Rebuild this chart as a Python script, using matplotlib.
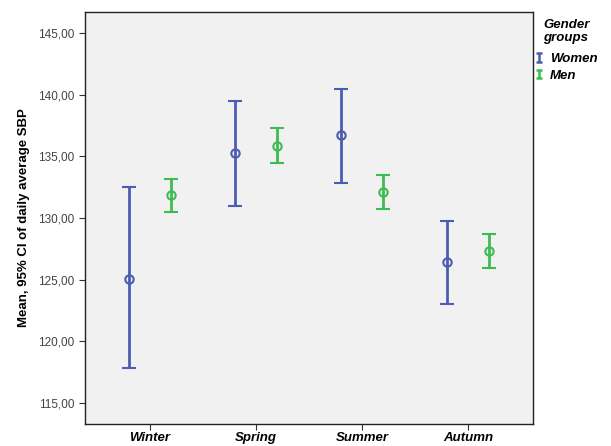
import matplotlib

matplotlib.use("Agg")
import matplotlib.pyplot as plt
import numpy as np
from matplotlib.container import ErrorbarContainer
from matplotlib.legend_handler import HandlerErrorbar
from matplotlib.ticker import FuncFormatter

plt.rcParams["font.family"] = ["Liberation Sans", "DejaVu Sans"]

seasons = ["Winter", "Spring", "Summer", "Autumn"]
women_mean = [125.08, 135.28, 136.74, 126.46]
women_low = [117.8, 131.0, 132.85, 123.06]
women_high = [132.53, 139.5, 140.47, 129.78]
men_mean = [131.88, 135.85, 132.1, 127.35]
men_low = [130.5, 134.47, 130.75, 125.97]
men_high = [133.18, 137.3, 133.5, 128.7]

BLUE = "#4a5db0"
GREEN = "#3fbc4f"

fig = plt.figure(figsize=(6.11, 4.46), dpi=100)
ax = fig.add_axes([85 / 611, 22 / 446, 448 / 611, 412 / 446])
ax.set_facecolor("#f0f1f0")

x = np.arange(len(seasons))
series = [
    ("Women", -0.2, women_mean, women_low, women_high, BLUE),
    ("Men", 0.2, men_mean, men_low, men_high, GREEN),
]
handles = []
for name, off, m, lo, hi, col in series:
    m = np.array(m)
    yerr = [m - np.array(lo), np.array(hi) - m]
    ax.errorbar(x + off, m, yerr=yerr, fmt="o", color=col, mfc="none", mec=col,
                ms=6, mew=1.5, elinewidth=2, capsize=5, capthick=2)
    # proxy for the legend (drawn off-axes, only its caps shape is used)
    h = ax.errorbar([-10], [0], yerr=[1], fmt="none", color=col,
                    elinewidth=1.8, capsize=2.5, capthick=1.8)
    handles.append(h)

ax.set_xlim(-0.613, 3.613)
ax.set_ylim(113.3, 146.7)
ax.set_yticks([115, 120, 125, 130, 135, 140, 145])
ax.yaxis.set_major_formatter(FuncFormatter(lambda v, p: f"{v:.2f}".replace(".", ",")))
ax.set_xticks(x)
ax.set_xticklabels(seasons, fontsize=9.5, fontweight="bold", fontstyle="italic")
ax.tick_params(axis="y", labelsize=8.5, length=4, colors="#333333", labelcolor="#444444")
ax.tick_params(axis="x", length=4, pad=1.5, colors="#333333", labelcolor="black")
ax.set_ylabel("Mean, 95% CI of daily average SBP", fontsize=9.5, fontweight="bold", labelpad=6)
for s in ax.spines.values():
    s.set_linewidth(1)
    s.set_color("#222222")

leg = ax.legend(handles, ["Women", "Men"], title="Gender\ngroups", loc="upper left",
                bbox_to_anchor=(0.99, 1.0), frameon=False, handlelength=0.6,
                handletextpad=0.5, borderaxespad=0.1, labelspacing=0.35,
                handler_map={ErrorbarContainer: HandlerErrorbar(yerr_size=0.32)},
                prop={"size": 9.5, "weight": "bold", "style": "italic"})
leg.get_title().set_fontsize(9.5)
leg.get_title().set_fontweight("bold")
leg.get_title().set_fontstyle("italic")
leg._legend_box.sep = 6

fig.savefig("out.png", dpi=100)
